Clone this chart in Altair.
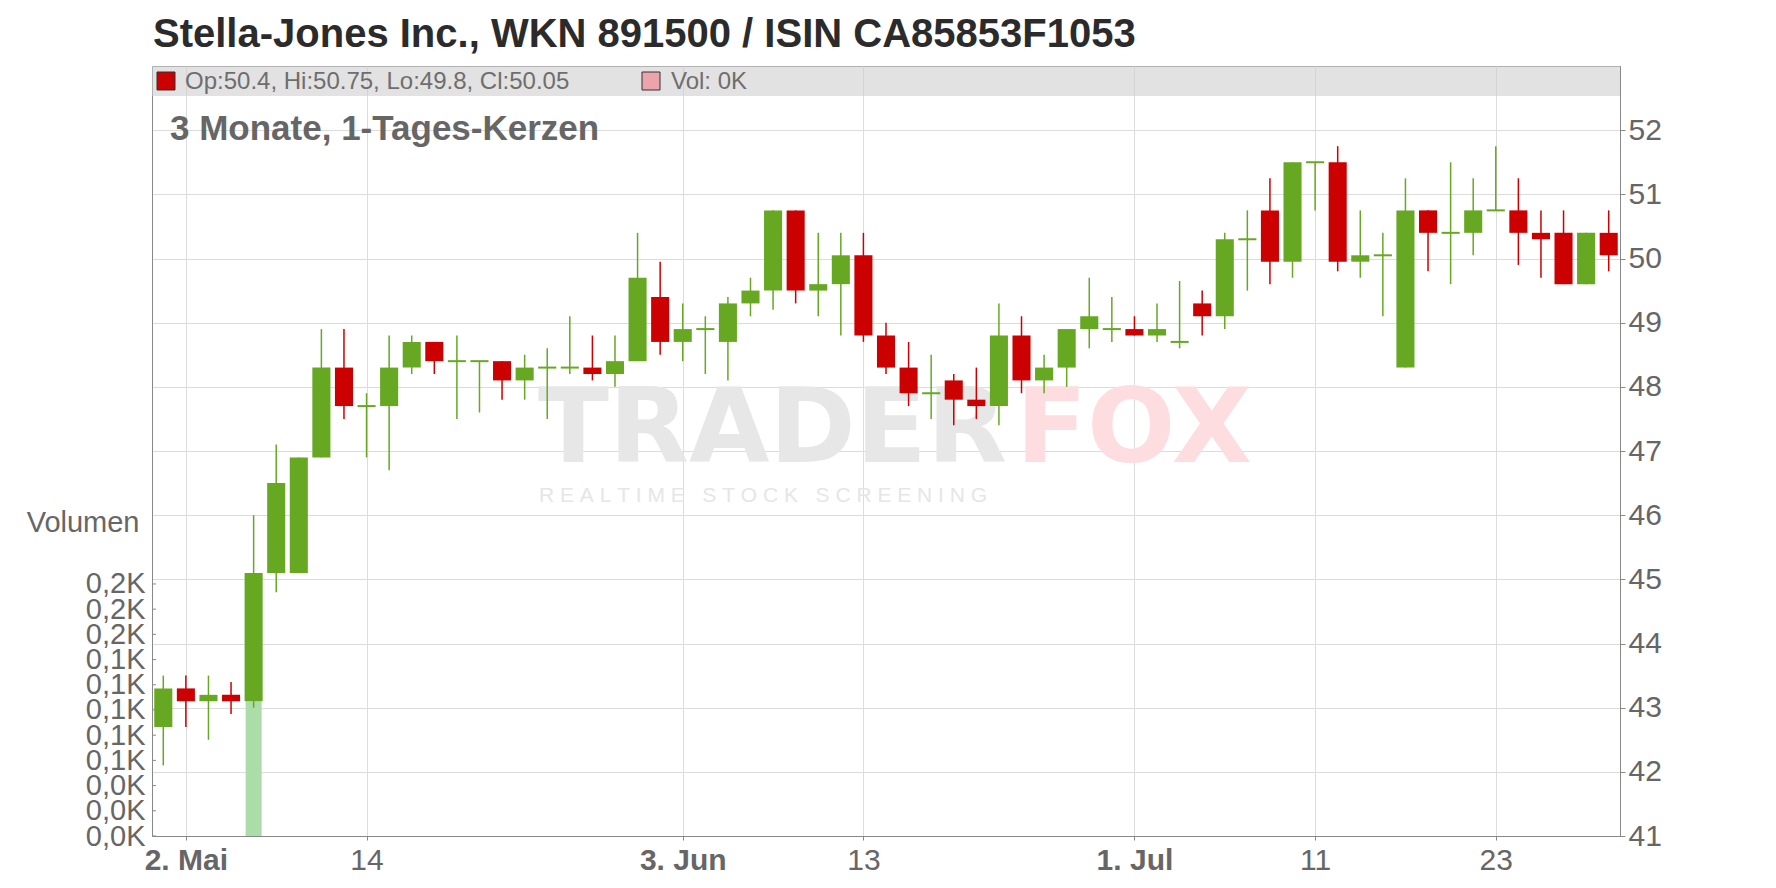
import altair as alt
import pandas as pd

title_text = "Stella-Jones Inc., WKN 891500 / ISIN CA85853F1053"
subtitle_text = "3 Monate, 1-Tages-Kerzen"

# trading days 1 May 2024 .. 30 Jul 2024
dates = pd.bdate_range("2024-05-01", "2024-07-30").strftime("%Y-%m-%d").tolist()

open_ = [42.7, 43.3, 43.1, 43.2, 43.1, 45.1, 45.1, 46.9, 48.3, 47.7,
         47.7, 48.3, 48.7, 48.4, 48.4, 48.4, 48.1, 48.3, 48.3, 48.3,
         48.2, 48.4, 49.4, 48.7, 48.9, 48.7, 49.3, 49.5, 50.75, 49.5,
         49.6, 50.05, 48.8, 48.3, 47.9, 48.1, 47.8, 47.7, 48.8, 48.1,
         48.3, 48.9, 48.9, 48.9, 48.8, 48.7, 49.3, 49.1, 50.3, 50.75,
         49.95, 51.5, 51.5, 49.95, 50.05, 48.3, 50.75, 50.4, 50.4, 50.75,
         50.75, 50.4, 50.4, 49.6, 50.4]
high = [43.5, 43.5, 43.5, 43.4, 46.0, 47.1, 46.9, 48.9, 48.9, 47.9,
        48.8, 48.8, 48.7, 48.8, 48.4, 48.4, 48.5, 48.6, 49.1, 48.8,
        48.8, 50.4, 49.95, 49.3, 49.1, 49.4, 49.7, 50.75, 50.75, 50.4,
        50.4, 50.4, 49.0, 48.7, 48.5, 48.2, 48.3, 49.3, 49.1, 48.5,
        48.9, 49.7, 49.4, 49.1, 49.3, 49.65, 49.5, 50.4, 50.75, 51.25,
        51.5, 51.5, 51.75, 50.75, 50.4, 51.25, 50.75, 51.5, 51.25, 51.75,
        51.25, 50.75, 50.75, 50.4, 50.75]
low = [42.1, 42.7, 42.5, 42.9, 43.0, 44.8, 45.1, 46.9, 47.5, 46.9,
       46.7, 48.2, 48.2, 47.5, 47.6, 47.8, 47.8, 47.5, 48.2, 48.1,
       48.0, 48.4, 48.5, 48.4, 48.2, 48.1, 49.1, 49.2, 49.3, 49.1,
       48.8, 48.7, 48.2, 47.7, 47.5, 47.4, 47.5, 47.4, 47.9, 47.9,
       48.0, 48.6, 48.7, 48.8, 48.7, 48.6, 48.8, 48.9, 49.5, 49.6,
       49.7, 50.75, 49.8, 49.7, 49.1, 48.3, 49.8, 49.6, 50.05, 50.75,
       49.9, 49.7, 49.6, 49.6, 49.8]
close = [43.3, 43.1, 43.2, 43.1, 45.1, 46.5, 46.9, 48.3, 47.7, 47.7,
         48.3, 48.7, 48.4, 48.4, 48.4, 48.1, 48.3, 48.3, 48.3, 48.2,
         48.4, 49.7, 48.7, 48.9, 48.9, 49.3, 49.5, 50.75, 49.5, 49.6,
         50.05, 48.8, 48.3, 47.9, 47.9, 47.8, 47.7, 48.8, 48.1, 48.3,
         48.9, 49.1, 48.9, 48.8, 48.9, 48.7, 49.1, 50.3, 50.3, 49.95,
         51.5, 51.5, 49.95, 50.05, 50.05, 50.75, 50.4, 50.4, 50.75, 50.75,
         50.4, 50.3, 49.6, 50.4, 50.05]
volume = [0, 0, 0, 0, 107, 0, 0, 0, 0, 0,
          0, 0, 0, 0, 0, 0, 0, 0, 0, 0,
          0, 0, 0, 0, 0, 0, 0, 0, 0, 0,
          0, 0, 0, 0, 0, 0, 0, 0, 0, 0,
          0, 0, 0, 0, 0, 0, 0, 0, 0, 0,
          0, 0, 0, 0, 0, 0, 0, 0, 0, 0,
          0, 0, 0, 0, 0]

tick_idx = [1, 9, 23, 31, 43, 51, 59]
tick_labels = ["2. Mai", "14", "3. Jun", "13", "1. Jul", "11", "23"]
tick_bold = [True, False, True, False, True, False, False]
price_ticks = [41, 42, 43, 44, 45, 46, 47, 48, 49, 50, 51, 52]
vol_ticks = [0, 20, 40, 60, 80, 100, 120, 140, 160, 180, 200]

UP, DOWN = "#66a822", "#cc0000"
FONT = "Liberation Sans"
W, H = 1468, 770

n = len(dates)
df = pd.DataFrame({"date": dates, "idx": list(range(n)), "o": open_, "h": high,
                   "l": low, "c": close, "v": volume})
df["dir"] = ["up" if c >= o else "down" for o, c in zip(open_, close)]
df["xl"] = df["idx"] - 0.4
df["xr"] = df["idx"] + 0.4
df["vl"] = df["idx"] - 0.355
df["vr"] = df["idx"] + 0.355

xs = alt.Scale(domain=[-0.5, n - 0.5], nice=False, zero=False)
ps = alt.Scale(domain=[41, 53], nice=False, zero=False)
vs = alt.Scale(domain=[0, 611], nice=False, zero=True)
col = alt.Color("dir:N", scale=alt.Scale(domain=["up", "down"], range=[UP, DOWN]), legend=None)

label_expr = "".join(f"datum.value == {i} ? '{t}' : " for i, t in zip(tick_idx, tick_labels)) + "''"
bold_test = " || ".join(f"datum.value == {i}" for i, b in zip(tick_idx, tick_bold) if b)
x_axis = alt.Axis(values=tick_idx, labelExpr=label_expr, grid=True, gridColor="#dcdcdc",
                  domainColor="#888888", tickColor="#888888", tickSize=4, labelPadding=5,
                  labelFontSize=30, labelColor="#666666", labelFlush=False, labelOverlap=False,
                  labelFontWeight={"condition": {"test": bold_test, "value": "bold"}, "value": "normal"},
                  title=None)
price_axis = alt.Axis(orient="right", values=price_ticks, format="d", grid=True, gridColor="#dcdcdc",
                      domainColor="#888888", tickColor="#888888", tickSize=5, labelPadding=3,
                      labelFontSize=30, labelColor="#666666", labelOverlap=False, title=None)
vol_axis = alt.Axis(orient="left", values=vol_ticks, grid=False, ticks=False, domainColor="#888888",
                    labelExpr="replace(format(datum.value / 1000, '.1f'), '.', ',') + 'K'",
                    labelFontSize=29, labelColor="#666666", labelPadding=7, labelOverlap=False,
                    title="Volumen", titleAngle=0, titleAlign="right", titleBaseline="middle",
                    titleX=-13, titleY=456, titleFontSize=29, titleFontWeight="normal",
                    titleColor="#666666", titleFont=FONT)

base = alt.Chart(df)
one = pd.DataFrame({"k": [0]})
last = df.iloc[-1]
head_text = f"Op:{last.o:g}, Hi:{last.h:g}, Lo:{last.l:g}, Cl:{last.c:g}"
vol_text = f"Vol: {last.v / 1000:.0f}K"


def label(text, x, y, **kw):
    return alt.Chart(one).mark_text(text=text, align="left", **kw).encode(x=alt.value(x), y=alt.value(y))


title = label(title_text, 1, -19, baseline="alphabetic", fontSize=40, fontWeight="bold",
              color="#2b2b2b", font=FONT)
band = alt.Chart(one).mark_rect(color="#cfcfcf", opacity=0.6).encode(
    x=alt.value(0), x2=alt.value(W), y=alt.value(0), y2=alt.value(30))
sq1 = alt.Chart(one).mark_square(size=324, filled=True, color=DOWN, stroke="#333333",
                                 strokeWidth=1, opacity=1).encode(x=alt.value(14), y=alt.value(15))
sq2 = alt.Chart(one).mark_square(size=324, filled=True, color="#eba4ab", stroke="#333333",
                                 strokeWidth=1, opacity=1).encode(x=alt.value(499), y=alt.value(15))
t1 = label(head_text, 33, 16, baseline="middle", fontSize=24, color="#6e6e6e", font=FONT)
t2 = label(vol_text, 519, 16, baseline="middle", fontSize=24, color="#6e6e6e", font=FONT)
sub = label(subtitle_text, 18, 74, baseline="alphabetic", fontSize=35, fontWeight="bold",
            color="#666666", font=FONT)

NB = "\u00a0"
tagline = (NB * 3).join(NB.join(word) for word in ["REALTIME", "STOCK", "SCREENING"])
wm1 = label("TRADER", 386, 396, baseline="alphabetic", fontSize=104, fontWeight="bold",
            color="#e7e7e7", font="DejaVu Sans")
wm2 = label("FOX", 864, 396, baseline="alphabetic", fontSize=104, fontWeight="bold",
            color="#fddde0", font="DejaVu Sans")
wm3 = label(tagline, 387, 436, baseline="alphabetic", fontSize=21, color="#e6e6e6", font=FONT)

vol_bars = base.transform_filter("datum.v > 0").mark_rect(color="#acdca8").encode(
    x=alt.X("vl:Q", scale=xs, axis=x_axis), x2="vr:Q",
    y=alt.Y("v:Q", scale=vs, axis=vol_axis), y2=alt.datum(0))
vol_ticks_layer = alt.Chart(pd.DataFrame({"t": vol_ticks})).mark_rule(color="#888888").encode(
    x=alt.value(0), x2=alt.value(4), y=alt.Y("t:Q", scale=vs, axis=None))

wicks = base.mark_rule(strokeWidth=1.5).encode(
    x=alt.X("idx:Q", scale=xs, axis=x_axis),
    y=alt.Y("l:Q", scale=ps, axis=price_axis), y2="h:Q", color=col)
bodies = base.mark_rect().encode(
    x=alt.X("xl:Q", scale=xs, axis=x_axis), x2="xr:Q",
    y=alt.Y("o:Q", scale=ps, axis=None), y2="c:Q", color=col)
dojis = base.transform_filter("datum.o == datum.c").mark_rule(strokeWidth=2).encode(
    x=alt.X("xl:Q", scale=xs, axis=x_axis), x2="xr:Q",
    y=alt.Y("c:Q", scale=ps, axis=None), color=col)

chart = alt.layer(
    band, wm1, wm2, wm3, vol_bars, vol_ticks_layer, wicks, bodies, dojis,
    sq1, sq2, t1, t2, sub, title
).resolve_scale(y="independent").properties(
    width=W, height=H,
    autosize=alt.AutoSizeParams(type="none"),
    padding={"left": 144, "top": 58, "right": 140, "bottom": 44},
).configure(font=FONT).configure_view(stroke="#888888", strokeWidth=1)

chart.save("out.html", embed_options={"renderer": "svg", "actions": False})
